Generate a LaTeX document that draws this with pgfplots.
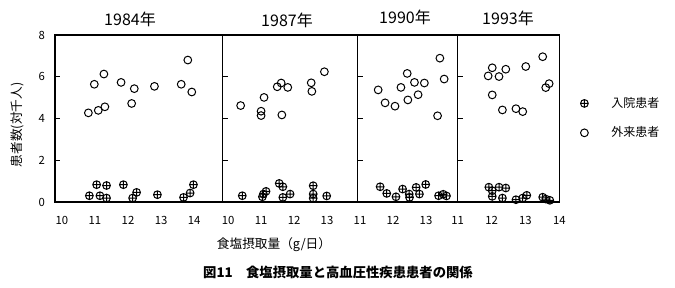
\documentclass[border=0pt]{standalone}
\usepackage{pgfplots}
\pgfplotsset{compat=1.18}
\usepackage{fontspec}
\setmainfont{Noto Sans CJK JP}
\pgfplotsset{
  panel/.style={
    scale only axis, height=125.25pt,
    anchor=south west,
    ymin=0, ymax=8, ytick={0,2,4,6,8},
    yticklabels={},
    ytick pos=left, xtick pos=bottom,
    ytick align=inside,
    major tick length=4pt,
    axis line style={line width=0.9pt},
    ytick style={black, line width=0.6pt},
    xtick style={draw=none},
    xticklabel style={yshift=-7pt, font=\fontsize{8.5}{9}\selectfont},
    yticklabel style={xshift=-4pt, font=\fontsize{8.5}{9}\selectfont},
    /pgf/number format/assume math mode=true,
    clip=false,
  },
  inp/.style={only marks, mark=oplus, mark size=2.9pt, mark options={line width=0.75pt, black}},
  outp/.style={only marks, mark=o, mark size=2.9pt, mark options={line width=0.75pt, black}},
}
\begin{document}
\begin{tikzpicture}
\useasboundingbox (0,0) rectangle (506.25pt,216pt);
% Panel 1984
\begin{axis}[panel, at={(41.25pt,64.5pt)}, width=125.625pt,
  xmin=9.79, xmax=14.86, xtick={10,11,12,13,14},
  yticklabels={0,2,4,6,8}]
\addplot[inp] coordinates {(10.83,0.30)(11.05,0.83)(11.15,0.30)(11.35,0.79)(11.35,0.19)(11.86,0.83)(12.14,0.19)(12.26,0.46)(12.89,0.35)(13.68,0.22)(13.88,0.43)(13.98,0.83)};
\addplot[outp] coordinates {(10.80,4.27)(10.98,5.64)(11.10,4.39)(11.27,6.13)(11.30,4.56)(11.79,5.73)(12.11,4.72)(12.19,5.43)(12.80,5.54)(13.61,5.64)(13.81,6.80)(13.93,5.27)};
\end{axis}
% Panel 1987
\begin{axis}[panel, at={(166.875pt,64.5pt)}, width=101.4pt,
  xmin=9.83, xmax=13.93, xtick={10,11,12,13}]
\addplot[inp] coordinates {(10.43,0.30)(11.04,0.25)(11.07,0.38)(11.15,0.51)(11.55,0.89)(11.66,0.73)(11.66,0.22)(11.88,0.38)(12.58,0.78)(12.58,0.38)(12.58,0.18)(12.99,0.29)};
\addplot[outp] coordinates {(10.38,4.62)(11.00,4.35)(11.00,4.14)(11.09,5.01)(11.49,5.52)(11.61,5.70)(11.63,4.17)(11.81,5.49)(12.52,5.71)(12.54,5.30)(12.92,6.24)};
\end{axis}
% Panel 1990
\begin{axis}[panel, at={(268.275pt,64.5pt)}, width=75pt,
  xmin=10.93, xmax=13.96, xtick={11,12,13}]
\addplot[inp] coordinates {(11.61,0.73)(11.81,0.41)(12.09,0.25)(12.29,0.62)(12.49,0.38)(12.50,0.22)(12.70,0.70)(12.80,0.38)(12.99,0.84)(13.38,0.30)(13.52,0.37)(13.62,0.29)};
\addplot[outp] coordinates {(11.55,5.37)(11.76,4.75)(12.06,4.59)(12.24,5.49)(12.43,6.16)(12.45,4.89)(12.65,5.73)(12.76,5.14)(12.95,5.70)(13.35,4.13)(13.42,6.89)(13.55,5.89)};
\end{axis}
% Panel 1993
\begin{axis}[panel, at={(343.275pt,64.5pt)}, width=76.2pt,
  xmin=11, xmax=14, xtick={11,12,13,14},
  legend style={at={(1.15,0.66)}, anchor=north west, draw=none, fill=none,
    font=\fontsize{9}{10}\selectfont, row sep=9pt},
  legend cell align=left,
  legend image code/.code={\draw[#1] plot coordinates {(0pt,0pt)}; \path (-4pt,0pt) (18pt,0pt);}]
\addplot[inp] coordinates {(11.92,0.71)(12.02,0.54)(12.02,0.27)(12.22,0.71)(12.32,0.19)(12.42,0.67)(12.72,0.11)(12.92,0.19)(13.04,0.32)(13.51,0.23)(13.60,0.14)(13.72,0.08)};
\addlegendentry{入院患者}
\addplot[outp] coordinates {(11.90,6.04)(12.02,6.43)(12.02,5.13)(12.22,6.01)(12.32,4.41)(12.42,6.36)(12.72,4.47)(12.92,4.33)(13.01,6.49)(13.51,6.96)(13.60,5.48)(13.70,5.67)};
\addlegendentry{外来患者}
\end{axis}
% titles
\node[font=\fontsize{12}{13}\selectfont] at (97.5pt,201.75pt) {1984年};
\node[font=\fontsize{12}{13}\selectfont] at (215.25pt,201pt) {1987年};
\node[font=\fontsize{12}{13}\selectfont] at (303.75pt,203.25pt) {1990年};
\node[font=\fontsize{12}{13}\selectfont] at (381pt,202.5pt) {1993年};
% axis labels
\node[rotate=90, font=\fontsize{9.5}{10}\selectfont] at (12.75pt,122.25pt) {患者数(対千人)};
\node[font=\fontsize{9.5}{10}\selectfont] at (205.5pt,32.25pt) {食塩摂取量（g/日）};
\node[font=\bfseries\fontsize{10}{11}\selectfont] at (253.5pt,12pt) {図11\hspace{1em}食塩摂取量と高血圧性疾患患者の関係};
\end{tikzpicture}
\end{document}
